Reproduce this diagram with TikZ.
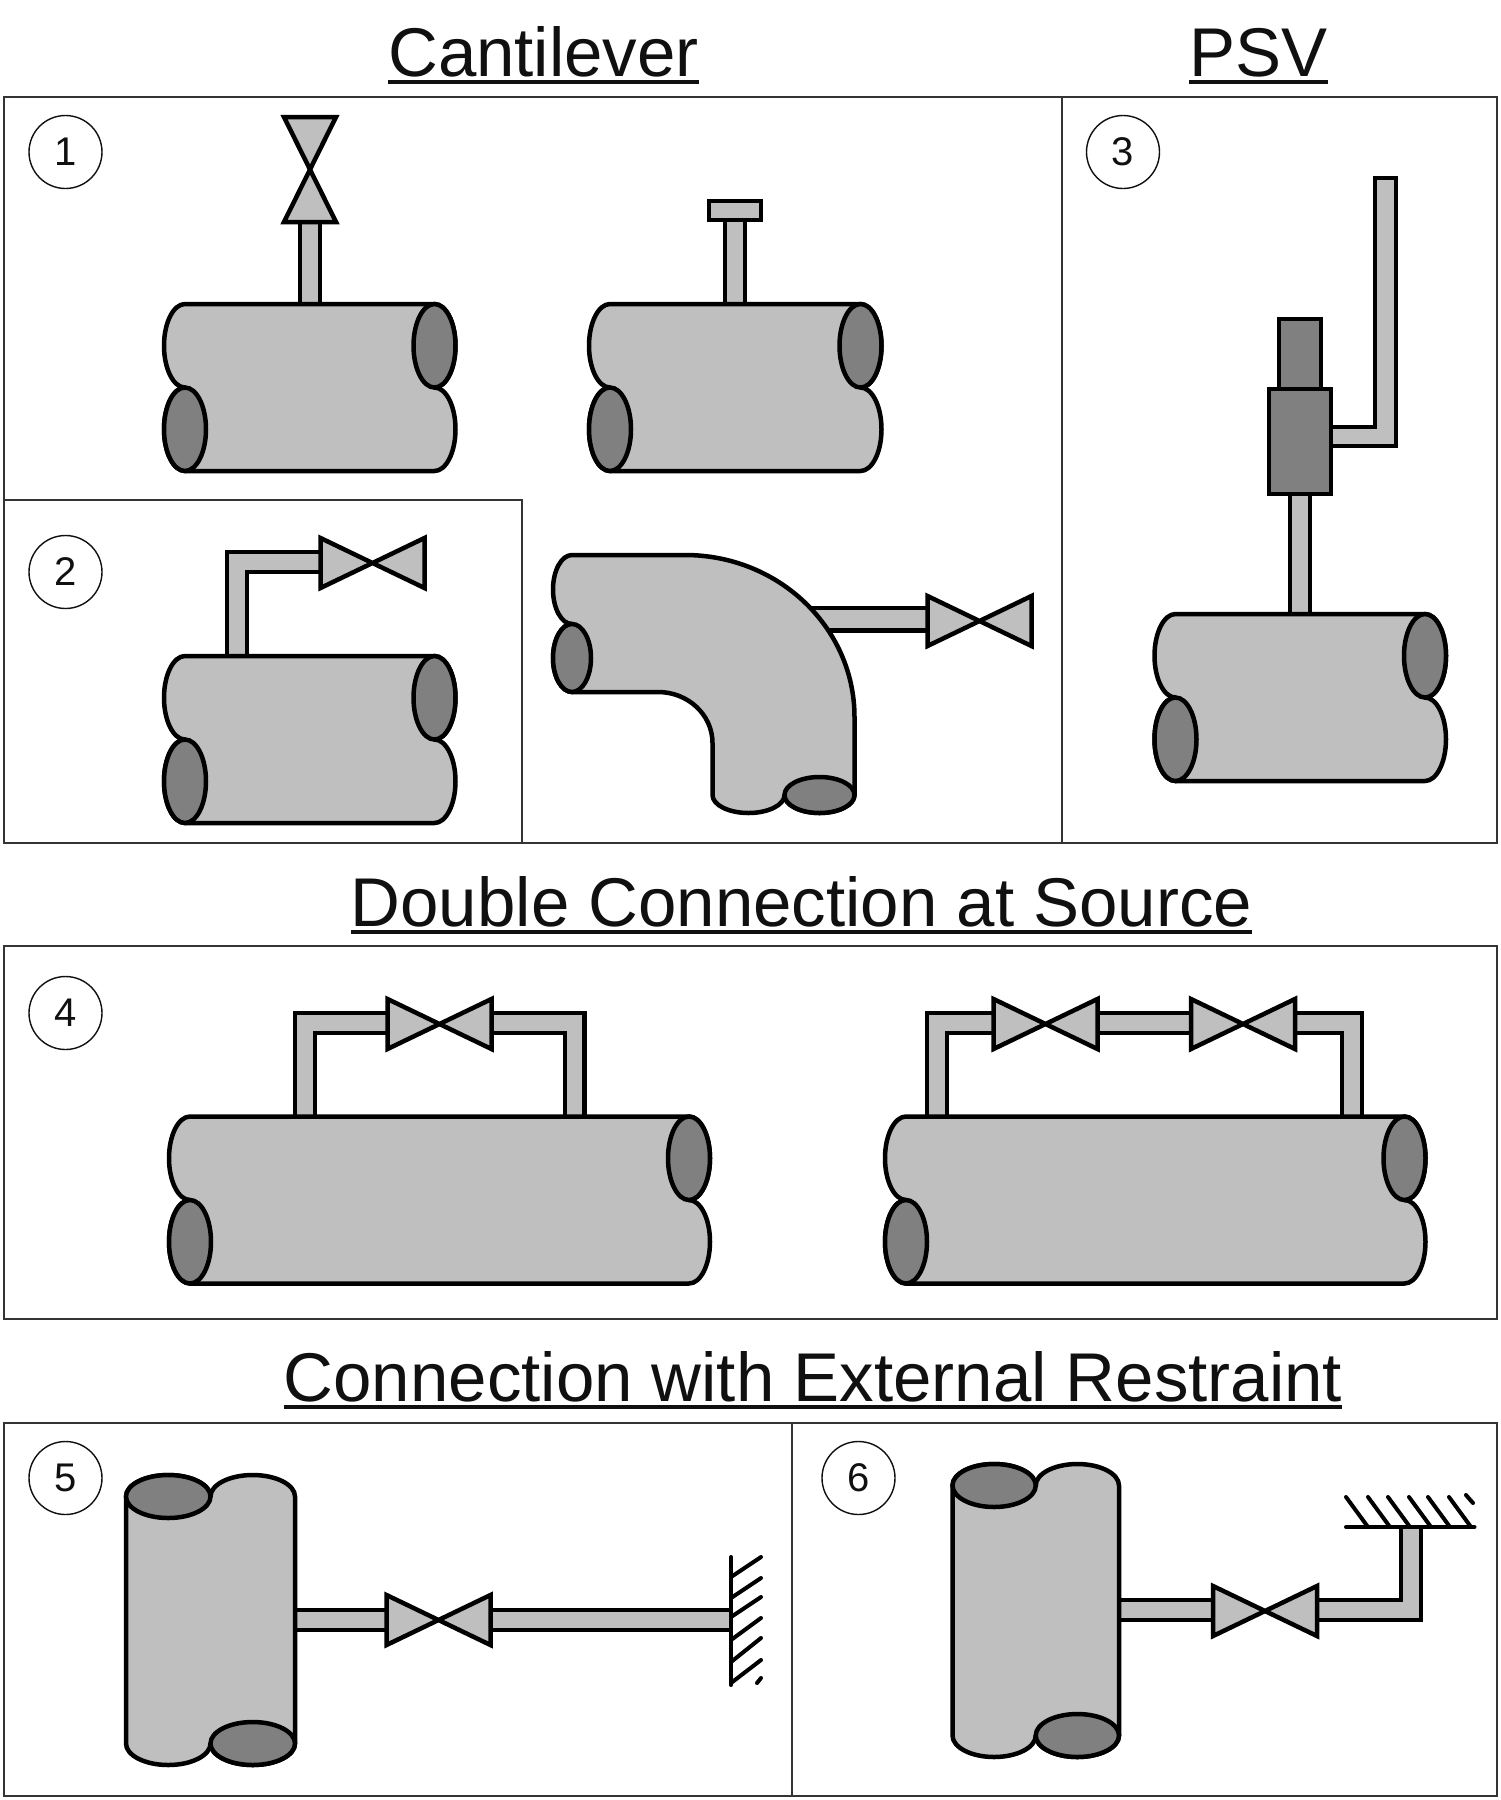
\documentclass[tikz,border=0pt]{standalone}
\usepackage{fontspec}
\setmainfont{Liberation Sans}
\definecolor{pipefill}{HTML}{BFBFBF}
\definecolor{capfill}{HTML}{808080}
\definecolor{ink}{HTML}{101010}
\tikzset{
  panel/.style={draw=ink!85,line width=2pt},
  body/.style={draw=black,fill=pipefill,line width=4.5pt,line join=round},
  endcap/.style={draw=black,fill=capfill,line width=4.5pt},
  valvebody/.style={draw=black,fill=pipefill,line width=4.5pt,line join=miter,miter limit=3},
  numring/.style={circle,draw=ink,line width=1.4pt,minimum size=73pt,inner sep=0pt,font=\fontsize{40}{40}\selectfont,text=ink},
  titletext/.style={anchor=base,inner sep=0pt,font=\fontsize{69}{69}\selectfont,text=ink},
  uline/.style={draw=ink,line width=3.6pt},
  hatch/.style={draw=black,line width=4pt,line cap=round},
}
% horizontal pipe: x left, y top, width
\newcommand{\hpipe}[3]{%
  \draw[body] (#1+21,#2) -- (#1+#3-21,#2) arc(-90:90:21pt and 41.75pt) arc(-90:90:21pt and 41.75pt)
     -- (#1+21,#2+167) arc(90:270:21pt and 41.75pt) arc(90:270:21pt and 41.75pt) -- cycle;
  \draw[endcap] (#1+21,#2+125.25) ellipse (21pt and 41.75pt);
  \draw[endcap] (#1+#3-21,#2+41.75) ellipse (21pt and 41.75pt);
}
% vertical pipe: x left, y top, width, height
\newcommand{\vpipe}[4]{%
  \pgfmathsetmacro{\rxv}{#3/4}
  \draw[body] (#1,#2+21.5) arc(180:360:\rxv pt and 21.5pt) arc(180:360:\rxv pt and 21.5pt)
     -- (#1+#3,#2+#4-21.5) arc(0:180:\rxv pt and 21.5pt) arc(0:180:\rxv pt and 21.5pt) -- cycle;
  \draw[endcap] (#1+\rxv,#2+21.5) ellipse (\rxv pt and 21.5pt);
  \draw[endcap] (#1+3*\rxv,#2+#4-21.5) ellipse (\rxv pt and 21.5pt);
}
% tube along a path: outer width, path
\newcommand{\tube}[2]{%
  \draw[draw=black,line width=#1pt,line join=miter] #2;
  \draw[draw=pipefill,line width=#1pt-8.5pt,line join=miter] #2;
}
% horizontal valve: cx, cy
\newcommand{\hvalve}[2]{%
  \draw[valvebody] (#1-52,#2-25) -- (#1+52,#2+25) -- (#1+52,#2-25) -- (#1-52,#2+25) -- cycle;
}
\begin{document}
\begin{tikzpicture}[x=1pt,y=1pt,yscale=-1]
\useasboundingbox (0,0) rectangle (1501,1800);
\fill[white] (0,0) rectangle (1501,1800);

% titles
\node[titletext] (t1) at (543.5,76) {Cantilever};
\node[titletext] (t2) at (1258.5,76) {PSV};
\node[titletext] (t3) at (801.5,926) {Double Connection at Source};
\node[titletext] (t4) at (813,1401) {Connection with External Restraint};
\draw[uline] ([yshift=6pt]t1.base west) -- ([yshift=6pt]t1.base east);
\draw[uline] ([yshift=6pt]t2.base west) -- ([yshift=6pt]t2.base east);
\draw[uline] ([yshift=6pt]t3.base west) -- ([yshift=6pt]t3.base east);
\draw[uline] ([yshift=6pt]t4.base west) -- ([yshift=6pt]t4.base east);

% panels
\draw[panel] (4,97) rectangle (1497,843);
\draw[panel] (1061.5,97) -- (1061.5,843);
\draw[panel] (4,500) -- (522,500) -- (522,843);
\draw[panel] (4,946) rectangle (1497,1319);
\draw[panel] (4,1423) rectangle (1497,1796);
\draw[panel] (792,1423) -- (792,1796);

% number rings
\node[numring] (n1) at (65.5,152) {1};
\node[numring] (n2) at (65.5,572) {2};
\node[numring] (n3) at (1123,152) {3};
\node[numring] (n4) at (65.5,1013) {4};
\node[numring] (n5) at (65.5,1478) {5};
\node[numring] (n6) at (858.5,1478) {6};

% panel 1 left
\tube{24}{(310,306) -- (310,222)}
\hpipe{164}{304}{291.5}
\draw[valvebody] (284,117) -- (336,222) -- (284,222) -- (336,117) -- cycle;

% panel 1 right
\tube{24}{(735,306) -- (735,220)}
\hpipe{589}{304}{292.5}
\draw[valvebody] (709,201) rectangle (761,220);

% panel 2
\tube{24}{(237,657) -- (237,562) -- (320,562)}
\hpipe{164}{656}{291.5}
\hvalve{372.5}{563}

% elbow
\tube{27}{(790,619) -- (927,619)}
\draw[body] (572,555) -- (685,555) arc(-90:0:169.5pt and 162pt) -- (854.5,795)
   arc(0:180:35pt and 18pt) arc(0:180:36pt and 18pt) -- (712.5,743)
   arc(0:-90:54.5pt and 51pt) -- (572,692)
   arc(90:270:19pt and 34pt) arc(90:270:19pt and 34.5pt) -- cycle;
\draw[endcap] (572,658) ellipse (19pt and 34pt);
\draw[endcap] (819.5,795) ellipse (35pt and 18pt);
\hvalve{979.5}{621}

% panel 3
\tube{24}{(1300,616) -- (1300,493)}
\draw[body,line join=miter] (1325,427) -- (1375,427) -- (1375,178) -- (1396,178) -- (1396,446) -- (1325,446) -- cycle;
\draw[endcap,line join=miter] (1279,319) rectangle (1321,389);
\draw[endcap,line join=miter] (1269,389) rectangle (1331,494);
\hpipe{1154.5}{614}{291.5}

% panel 4 left
\tube{24}{(305,1118) -- (305,1023) -- (387,1023)}
\tube{24}{(492,1023) -- (574.5,1023) -- (574.5,1118)}
\hpipe{169}{1116.5}{541}
\hvalve{439.5}{1024}

% panel 4 right
\tube{24}{(937,1118) -- (937,1023) -- (993,1023)}
\tube{24}{(1098,1023) -- (1190,1023)}
\tube{24}{(1296,1023) -- (1352,1023) -- (1352,1118)}
\hpipe{885}{1116.5}{540.5}
\hvalve{1045.5}{1024}
\hvalve{1243}{1024}

% panel 5
\tube{24}{(293,1620) -- (386,1620)}
\tube{24}{(491,1620) -- (731,1620)}
\vpipe{126}{1475}{169}{290}
\hvalve{438.5}{1620}
\draw[hatch] (731,1557) -- (731,1685);
\foreach \ya/\yb in {1577/1557,1598/1578,1617/1597,1640/1618,1662/1638,1683/1660}
  \draw[hatch] (731,\ya) -- (761,\yb);
\draw[hatch] (757,1683) -- (761,1678);

% panel 6
\tube{24}{(1117,1610) -- (1212,1610)}
\tube{24}{(1318,1610) -- (1411,1610) -- (1411,1527)}
\vpipe{952.5}{1464}{166.5}{293}
\hvalve{1265}{1611}
\draw[hatch] (1346,1527) -- (1474.5,1527);
\foreach \xa in {1346,1368,1388,1409,1428,1449}
  \draw[hatch] (\xa,1497) -- (\xa+22,1527);
\draw[hatch] (1466,1495) -- (1473,1503);
\end{tikzpicture}
\end{document}
